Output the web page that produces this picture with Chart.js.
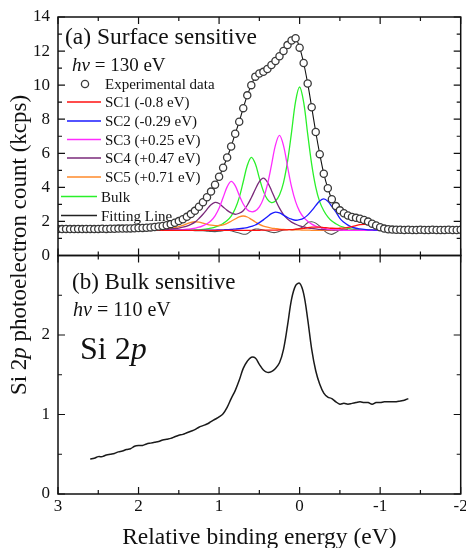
<!DOCTYPE html>
<html><head><meta charset="utf-8">
<script src="https://cdn.jsdelivr.net/npm/chart.js@4.4.0/dist/chart.umd.min.js"></script>
<style>html,body{margin:0;padding:0;background:#fff;}canvas{display:block;}</style>
</head><body>
<canvas id="c" width="466" height="548"></canvas>
<script>
// ---------- data ----------
const expE = [3.00,2.95,2.90,2.85,2.80,2.75,2.70,2.65,2.60,2.55,2.50,2.45,2.40,2.35,2.30,2.25,2.20,2.15,2.10,2.05,
2.00,1.95,1.90,1.85,1.80,1.75,1.70,1.65,1.60,1.55,1.50,1.45,1.40,1.35,1.30,1.25,1.20,1.15,1.10,1.05,
1.00,0.95,0.90,0.85,0.80,0.75,0.70,0.65,0.60,0.55,0.50,0.45,0.40,0.35,0.30,0.25,0.20,0.15,0.10,0.05,
0.00,-0.05,-0.10,-0.15,-0.20,-0.25,-0.30,-0.35,-0.40,-0.45,-0.50,-0.55,-0.60,-0.65,-0.70,-0.75,-0.80,-0.85,-0.90,-0.95,
-1.00,-1.05,-1.10,-1.15,-1.20,-1.25,-1.30,-1.35,-1.40,-1.45,-1.50,-1.55,-1.60,-1.65,-1.70,-1.75,-1.80,-1.85,-1.90,-1.95,-2.00];
const expV = [1.55,1.55,1.56,1.55,1.55,1.56,1.55,1.56,1.56,1.55,1.56,1.57,1.56,1.57,1.57,1.58,1.58,1.59,1.59,1.60,
1.61,1.62,1.63,1.65,1.67,1.70,1.73,1.78,1.84,1.92,2.02,2.13,2.27,2.43,2.62,2.86,3.13,3.42,3.75,4.15,
4.62,5.15,5.75,6.40,7.15,7.85,8.65,9.40,10.00,10.50,10.68,10.78,10.95,11.18,11.42,11.70,12.00,12.35,12.62,12.75,
12.20,11.30,10.10,8.70,7.25,5.95,4.80,3.95,3.30,2.90,2.65,2.48,2.35,2.26,2.21,2.16,2.09,1.99,1.87,1.76,
1.66,1.58,1.54,1.52,1.51,1.51,1.50,1.51,1.50,1.50,1.51,1.50,1.50,1.51,1.50,1.50,1.50,1.51,1.50,1.50,1.51];

const compE = [1.80,1.75,1.70,1.65,1.60,1.55,1.50,1.45,1.40,1.35,1.30,1.25,1.20,1.15,1.10,1.05,1.00,0.95,0.90,0.85,
0.80,0.75,0.70,0.65,0.60,0.55,0.50,0.45,0.40,0.35,0.30,0.25,0.20,0.15,0.10,0.05,0.00,-0.05,-0.10,-0.15,
-0.20,-0.25,-0.30,-0.35,-0.40,-0.45,-0.50,-0.55,-0.60,-0.65,-0.70,-0.75,-0.80,-0.85,-0.90,-0.95,-1.00];
const sc1 = [1.48,1.48,1.48,1.48,1.48,1.48,1.48,1.48,1.48,1.48,1.48,1.48,1.48,1.48,1.48,1.48,1.48,1.48,1.48,1.48,
1.48,1.48,1.48,1.48,1.48,1.48,1.48,1.49,1.49,1.49,1.49,1.50,1.50,1.51,1.52,1.54,1.56,1.59,1.63,1.66,
1.67,1.66,1.64,1.62,1.60,1.59,1.60,1.61,1.65,1.70,1.76,1.81,1.83,1.81,1.75,1.69,1.63];
const sc2 = [1.48,1.48,1.48,1.48,1.48,1.48,1.48,1.48,1.48,1.48,1.48,1.48,1.48,1.49,1.49,1.49,1.50,1.51,1.52,1.53,
1.55,1.57,1.60,1.64,1.71,1.79,1.93,2.09,2.28,2.46,2.55,2.50,2.37,2.23,2.13,2.07,2.10,2.19,2.37,2.63,
2.93,3.20,3.32,3.18,2.88,2.56,2.18,1.95,1.78,1.67,1.60,1.56,1.53,1.51,1.50,1.49,1.48];
const sc3 = [1.48,1.48,1.48,1.48,1.48,1.49,1.50,1.52,1.54,1.56,1.61,1.66,1.75,1.86,2.04,2.33,2.77,3.40,4.03,4.35,
4.10,3.53,3.02,2.69,2.57,2.62,2.85,3.34,4.16,5.29,6.48,7.05,6.45,5.22,4.03,3.16,2.59,2.24,2.01,1.84,
1.73,1.65,1.59,1.55,1.52,1.51,1.49,1.48,1.48,1.48,1.48,1.48,1.48,1.48,1.48,1.48,1.48];
const sc4 = [1.50,1.51,1.52,1.53,1.55,1.58,1.61,1.66,1.73,1.83,1.96,2.17,2.42,2.71,2.98,3.12,3.05,2.85,2.65,2.50,
2.42,2.48,2.63,2.95,3.39,3.89,4.34,4.54,4.31,3.82,3.27,2.78,2.40,2.14,1.96,1.84,1.74,1.68,1.62,1.59,
1.56,1.53,1.52,1.51,1.50,1.49,1.49,1.48,1.48,1.48,1.48,1.48,1.48,1.48,1.48,1.48,1.48];
const sc5 = [1.51,1.52,1.54,1.56,1.59,1.63,1.69,1.77,1.86,1.94,1.98,1.96,1.90,1.83,1.78,1.75,1.76,1.80,1.89,2.01,
2.14,2.27,2.32,2.26,2.12,1.97,1.83,1.73,1.66,1.61,1.58,1.55,1.53,1.52,1.51,1.50,1.50,1.49,1.49,1.48,
1.48,1.48,1.48,1.48,1.48,1.48,1.48,1.48,1.48,1.48,1.48,1.48,1.48,1.48,1.48,1.48,1.48];
const bulk = [1.48,1.48,1.48,1.48,1.48,1.48,1.48,1.48,1.48,1.49,1.50,1.51,1.53,1.56,1.61,1.67,1.75,1.88,2.05,2.31,
2.74,3.40,4.33,5.28,5.76,5.38,4.54,3.78,3.29,3.11,3.20,3.55,4.28,5.52,7.24,9.05,9.89,9.00,7.14,5.35,
4.02,3.15,2.63,2.27,2.02,1.86,1.73,1.65,1.59,1.55,1.52,1.50,1.49,1.48,1.48,1.48,1.48];

const resE = [1.60,1.55,1.50,1.45,1.40,1.35,1.30,1.25,1.20,1.15,1.10,1.05,1.00,0.95,0.90,0.85,0.80,0.75,0.70,0.65,
0.60,0.55,0.50,0.45,0.40,0.35,0.30,0.25,0.20,0.15,0.10,0.05,0.00,-0.05,-0.10,-0.15,-0.20,-0.25,-0.30,-0.35,
-0.40,-0.45,-0.50,-0.55,-0.60];
const resV = [1.50,1.50,1.50,1.49,1.48,1.47,1.46,1.45,1.45,1.43,1.41,1.40,1.42,1.46,1.50,1.45,1.38,1.32,1.25,1.28,
1.45,1.55,1.54,1.50,1.44,1.36,1.35,1.42,1.50,1.53,1.52,1.53,1.58,1.72,1.92,1.98,1.90,1.72,1.48,1.30,
1.24,1.35,1.50,1.54,1.52];

const bulkE = [2.60,2.55,2.50,2.45,2.40,2.35,2.30,2.25,2.20,2.15,2.10,2.05,2.00,1.95,1.90,1.85,1.80,1.75,1.70,1.65,
1.60,1.55,1.50,1.45,1.40,1.35,1.30,1.25,1.20,1.15,1.10,1.05,1.00,0.95,0.90,0.85,0.80,0.75,0.70,0.65,
0.60,0.55,0.50,0.45,0.40,0.35,0.30,0.25,0.20,0.15,0.10,0.05,0.00,-0.05,-0.10,-0.15,-0.20,-0.25,-0.30,-0.35,
-0.40,-0.45,-0.50,-0.55,-0.60,-0.65,-0.70,-0.75,-0.80,-0.85,-0.90,-0.95,-1.00,-1.05,-1.10,-1.15,-1.20,-1.25,-1.30,-1.35];
const bulkV = [0.44,0.45,0.47,0.47,0.49,0.50,0.51,0.53,0.54,0.56,0.57,0.60,0.61,0.61,0.63,0.64,0.65,0.66,0.68,0.69,
0.70,0.72,0.74,0.75,0.77,0.79,0.81,0.84,0.86,0.88,0.91,0.94,0.97,1.01,1.09,1.20,1.30,1.43,1.58,1.67,
1.72,1.71,1.63,1.56,1.53,1.54,1.58,1.65,1.82,2.12,2.45,2.62,2.65,2.52,2.20,1.82,1.55,1.38,1.27,1.22,
1.20,1.16,1.13,1.14,1.13,1.14,1.15,1.16,1.15,1.15,1.13,1.15,1.15,1.16,1.16,1.16,1.16,1.17,1.18,1.20];

const xTickValues = [3,2,1,0,-1,-2];
const topTickLabels = [0,2,4,6,8,10,12,14];
const botTickLabels = [0,1,2];
const legendItems = [
  {label:'SC1 (-0.8 eV)', color:'#ff1010'},
  {label:'SC2 (-0.29 eV)', color:'#1a1aff'},
  {label:'SC3 (+0.25 eV)', color:'#ff2cff'},
  {label:'SC4 (+0.47 eV)', color:'#7a2a7a'},
  {label:'SC5 (+0.71 eV)', color:'#ff8a2a'},
  {label:'Bulk', color:'#2af02a'},
  {label:'Fitting Line', color:'#222222'}
];

// ---------- chart ----------
const pts = (xs, ys) => xs.map((x, i) => ({x: x, y: ys[i]}));
const SERIF = '"Liberation Serif", "Times New Roman", serif';
const line = (label, xs, ys, color, axis, w) => ({
  label, data: pts(xs, ys), yAxisID: axis, borderColor: color, borderWidth: w || 1.3,
  pointRadius: 0, tension: 0.35, fill: false, cubicInterpolationMode: 'default'
});

const datasets = [
  {label:'Experimental data', data: pts(expE, expV), yAxisID:'yT', showLine:false,
   pointRadius:3.6, pointBorderWidth:1.3, pointBorderColor:'#3a3a3a', pointBackgroundColor:'#ffffff'},
  line('SC1 (-0.8 eV)', compE, sc1, legendItems[0].color, 'yT'),
  line('SC2 (-0.29 eV)', compE, sc2, legendItems[1].color, 'yT'),
  line('SC3 (+0.25 eV)', compE, sc3, legendItems[2].color, 'yT'),
  line('SC4 (+0.47 eV)', compE, sc4, legendItems[3].color, 'yT'),
  line('SC5 (+0.71 eV)', compE, sc5, legendItems[4].color, 'yT'),
  line('Bulk', compE, bulk, legendItems[5].color, 'yT'),
  line('Residual', resE, resV, '#555555', 'yT', 1.1),
  line('Fitting Line', expE, expV, '#111111', 'yT', 1.1),
  line('Bulk sensitive', bulkE, bulkV, '#1a1a1a', 'yB', 1.5)
];

function fixW(s){ s.width = 58; s.paddingTop = 0; s.paddingBottom = 0; }

const framePlugin = {
  id: 'frame',
  afterDatasetsDraw(chart) {
    const {ctx, chartArea: a} = chart;
    const x = chart.scales.x, yT = chart.scales.yT, yB = chart.scales.yB;
    ctx.save();
    ctx.strokeStyle = '#111';
    ctx.lineWidth = 1.5;
    ctx.strokeRect(a.left, yT.top, a.right - a.left, yT.bottom - yT.top);
    ctx.strokeRect(a.left, yB.top, a.right - a.left, yB.bottom - yB.top);
    ctx.lineWidth = 1.2;
    ctx.beginPath();
    const edgesDown = [yT.top, yB.top], edgesUp = [yT.bottom, yB.bottom];
    for (let v = -2; v <= 3.001; v += 0.5) {
      const px = x.getPixelForValue(v);
      const L = Math.abs(v - Math.round(v)) < 1e-6 ? 7 : 4;
      for (const e of edgesDown) { ctx.moveTo(px, e); ctx.lineTo(px, e + L); }
      for (const e of edgesUp) { ctx.moveTo(px, e); ctx.lineTo(px, e - L); }
    }
    for (let v = 0; v <= 14; v += 1) {
      const py = yT.getPixelForValue(v);
      const L = v % 2 === 0 ? 7 : 4;
      ctx.moveTo(a.left, py); ctx.lineTo(a.left + L, py);
      ctx.moveTo(a.right, py); ctx.lineTo(a.right - L, py);
    }
    for (let v = 0; v <= 3.001; v += 0.5) {
      const py = yB.getPixelForValue(v);
      const L = Math.abs(v - Math.round(v)) < 1e-6 ? 7 : 4;
      ctx.moveTo(a.left, py); ctx.lineTo(a.left + L, py);
      ctx.moveTo(a.right, py); ctx.lineTo(a.right - L, py);
    }
    ctx.stroke();
    ctx.restore();
  }
};

function runs(ctx, x, y, parts, size, align) {
  let total = 0;
  const ws = parts.map(p => { ctx.font = (p[1] ? 'italic ' : '') + size + 'px ' + SERIF; const w = ctx.measureText(p[0]).width; total += w; return w; });
  let cx = align === 'center' ? x - total / 2 : x;
  parts.forEach((p, i) => { ctx.font = (p[1] ? 'italic ' : '') + size + 'px ' + SERIF; ctx.fillText(p[0], cx, y); cx += ws[i]; });
}

const textPlugin = {
  id: 'texts',
  afterDraw(chart) {
    const {ctx, chartArea: a} = chart;
    ctx.save();
    ctx.fillStyle = '#111';
    ctx.textBaseline = 'alphabetic';
    ctx.textAlign = 'left';
    // panel (a)
    runs(ctx, 65, 44, [['(a) Surface sensitive', false]], 23.5);
    runs(ctx, 72, 71, [['h\u03bd', true], [' = 130 eV', false]], 19);
    // legend
    ctx.beginPath(); ctx.arc(85, 84, 3.6, 0, Math.PI * 2);
    ctx.fillStyle = '#fff'; ctx.fill(); ctx.strokeStyle = '#3a3a3a'; ctx.lineWidth = 1.3; ctx.stroke();
    ctx.fillStyle = '#111';
    runs(ctx, 105, 89, [['Experimental data', false]], 15);
    const ly = [102, 121, 139.5, 158, 177, 196.5, 215.5];
    legendItems.forEach((it, i) => {
      const x0 = i < 5 ? 67 : 61, x1 = i < 5 ? 101 : 97;
      ctx.strokeStyle = it.color; ctx.lineWidth = 1.5;
      ctx.beginPath(); ctx.moveTo(x0, ly[i]); ctx.lineTo(x1, ly[i]); ctx.stroke();
      runs(ctx, x1 + 4, ly[i] + 5, [[it.label, false]], 15);
    });
    // panel (b)
    runs(ctx, 72, 289, [['(b) Bulk sensitive', false]], 23);
    runs(ctx, 73, 316, [['h\u03bd', true], [' = 110 eV', false]], 20);
    runs(ctx, 80, 359, [['Si 2', false], ['p', true]], 32);
    // axis titles
    runs(ctx, (a.left + a.right) / 2, 544, [['Relative binding energy (eV)', false]], 23.5, 'center');
    ctx.translate(26, 245);
    ctx.rotate(-Math.PI / 2);
    runs(ctx, 0, 0, [['Si 2', false], ['p', true], [' photoelectron count (kcps)', false]], 23, 'center');
    ctx.restore();
  }
};

const tickFont = {family: SERIF, size: 17};
new Chart(document.getElementById('c'), {
  type: 'line',
  data: {datasets},
  options: {
    responsive: false, animation: false, devicePixelRatio: 1,
    layout: {padding: {left: 0, right: 5, top: 17, bottom: 0}},
    plugins: {legend: {display: false}, tooltip: {enabled: false}},
    elements: {line: {borderJoinStyle: 'round'}},
    scales: {
      x: {type: 'linear', min: -2, max: 3, reverse: true,
          afterBuildTicks: s => { s.ticks = xTickValues.map(v => ({value: v})); },
          ticks: {font: tickFont, color: '#111', padding: 2, autoSkip: false, maxRotation: 0},
          grid: {display: false, drawTicks: false}, border: {display: false},
          afterFit: s => { s.height = 54; s.paddingLeft = 0; s.paddingRight = 0; }},
      yB: {type: 'linear', position: 'left', stack: 'v', stackWeight: 1, min: 0, max: 3,
          afterBuildTicks: s => { s.ticks = botTickLabels.map(v => ({value: v})); },
          ticks: {font: tickFont, color: '#111', padding: 8, autoSkip: false},
          grid: {display: false, drawTicks: false}, border: {display: false}, afterFit: fixW},
      yT: {type: 'linear', position: 'left', stack: 'v', stackWeight: 1, min: 0, max: 14,
          afterBuildTicks: s => { s.ticks = topTickLabels.map(v => ({value: v})); },
          ticks: {font: tickFont, color: '#111', padding: 8, autoSkip: false},
          grid: {display: false, drawTicks: false}, border: {display: false}, afterFit: fixW}
    }
  },
  plugins: [framePlugin, textPlugin]
});
</script>
</body></html>
